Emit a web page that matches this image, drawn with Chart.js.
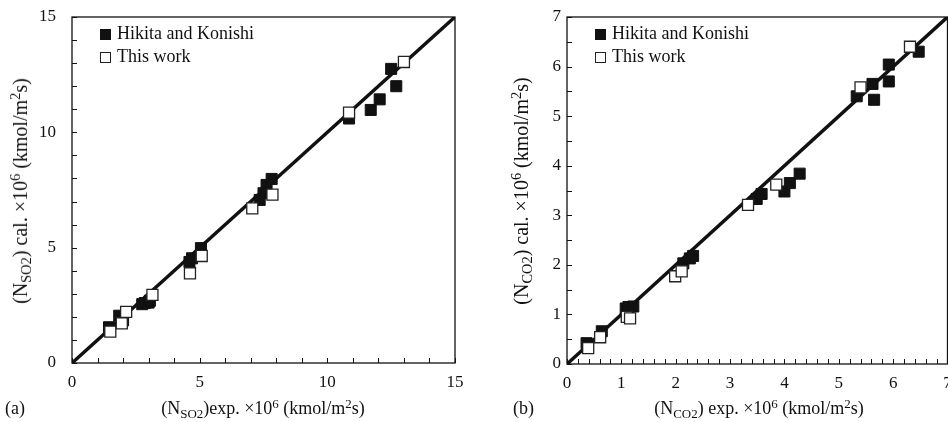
<!DOCTYPE html>
<html>
<head>
<meta charset="utf-8">
<script src="https://cdn.jsdelivr.net/npm/chart.js@4.4.0/dist/chart.umd.min.js"></script>
<style>
  html, body { margin: 0; padding: 0; background: #fff; }
  #wrap { position: relative; width: 948px; height: 422px; overflow: hidden; font-family: 'Liberation Serif', 'Times New Roman', serif; color: #111; }
  canvas { position: absolute; top: 0; }
  .txt { position: absolute; white-space: nowrap; font-size: 18px; line-height: 20px; }
  .txt sub { font-size: 0.72em; vertical-align: -0.3em; line-height: 0; }
  .txt sup { font-size: 0.72em; vertical-align: 0.5em; line-height: 0; }
  .ytitle { transform: translate(-50%, -50%) rotate(-90deg); font-size: 20px; }
  .xtitle { transform: translateX(-50%); }
  .leg { position: absolute; font-size: 18px; line-height: 20px; white-space: nowrap; }
  .leg i { display: inline-block; width: 11px; height: 11px; box-sizing: border-box; margin-right: 6px; vertical-align: -1px; }
  .leg i.f { background: #111; }
  .leg i.o { background: #fff; border: 1.3px solid #222; }
</style>
</head>
<body>
<div id="wrap">
  <canvas id="chartSO2" width="474" height="422" style="left:0"></canvas>
  <canvas id="chartCO2" width="494" height="422" style="left:474px"></canvas>

  <div class="txt ytitle" style="left:20px; top:191px">(N<sub>SO2</sub>) cal. ×10<sup>6</sup> (kmol/m<sup>2</sup>s)</div>
  <div class="txt xtitle" style="left:263px; top:398px">(N<sub>SO2</sub>)exp. ×10<sup>6</sup> (kmol/m<sup>2</sup>s)</div>
  <div class="txt" style="left:5px; top:398px">(a)</div>

  <div class="txt ytitle" style="left:521px; top:191px">(N<sub>CO2</sub>) cal. ×10<sup>6</sup> (kmol/m<sup>2</sup>s)</div>
  <div class="txt xtitle" style="left:759px; top:398px">(N<sub>CO2</sub>) exp. ×10<sup>6</sup> (kmol/m<sup>2</sup>s)</div>
  <div class="txt" style="left:513px; top:398px">(b)</div>

  <div class="leg" style="left:100px; top:23px"><i class="f"></i>Hikita and Konishi</div>
  <div class="leg" style="left:100px; top:46px"><i class="o"></i>This work</div>
  <div class="leg" style="left:595px; top:23px"><i class="f"></i>Hikita and Konishi</div>
  <div class="leg" style="left:595px; top:46px"><i class="o"></i>This work</div>
</div>
<script>
// (a) SO2 - experimental vs calculated flux
const so2HikitaX = [1.45, 1.85, 2.0, 2.75, 2.85, 3.0, 3.05, 4.6, 4.7, 5.05, 7.35, 7.5, 7.62, 7.82, 10.85, 11.7, 12.05, 12.5, 12.7];
const so2HikitaY = [1.55, 2.05, 1.85, 2.55, 2.6, 2.62, 2.7, 4.38, 4.54, 4.98, 7.07, 7.36, 7.72, 7.98, 10.6, 10.97, 11.43, 12.75, 12.0];
const so2WorkX = [1.5, 1.95, 2.12, 3.15, 4.62, 5.08, 7.06, 7.85, 10.85, 13.0];
const so2WorkY = [1.36, 1.72, 2.22, 2.95, 3.89, 4.64, 6.7, 7.3, 10.85, 13.05];
const so2Ticks = [0, 1, 2, 3, 4, 5, 6, 7, 8, 9, 10, 11, 12, 13, 14, 15];
const so2Labels = [0, 5, 10, 15];

// (b) CO2
const co2HikitaX = [0.36, 0.64, 1.08, 1.13, 1.22, 2.14, 2.26, 2.32, 3.49, 3.58, 4.0, 4.1, 4.28, 5.33, 5.62, 5.65, 5.92, 5.92, 6.47];
const co2HikitaY = [0.42, 0.66, 1.12, 1.15, 1.16, 2.03, 2.13, 2.18, 3.33, 3.43, 3.48, 3.65, 3.84, 5.4, 5.65, 5.33, 6.04, 5.7, 6.3];
const co2WorkX = [0.39, 0.61, 1.1, 1.16, 1.99, 2.11, 3.33, 3.85, 5.4, 6.31];
const co2WorkY = [0.32, 0.54, 0.95, 0.92, 1.77, 1.87, 3.21, 3.62, 5.58, 6.4];
const co2TicksX = [0, 0.2, 0.4, 0.6, 0.8, 1, 1.2, 1.4, 1.6, 1.8, 2, 2.2, 2.4, 2.6, 2.8, 3, 3.2, 3.4, 3.6, 3.8,
                   4, 4.2, 4.4, 4.6, 4.8, 5, 5.2, 5.4, 5.6, 5.8, 6, 6.2, 6.4, 6.6, 6.8, 7];
const co2TicksY = [0, 0.5, 1, 1.5, 2, 2.5, 3, 3.5, 4, 4.5, 5, 5.5, 6, 6.5, 7];
const co2Labels = [0, 1, 2, 3, 4, 5, 6, 7];

const FONT = "'Liberation Serif', 'Times New Roman', serif";
const INK = '#111';

function pairs(xs, ys) {
    return xs.map((x, i) => ({ x: x, y: ys[i] }));
}

// frame + inward tick marks
const framePlugin = {
    id: 'frame',
    afterDraw(chart) {
        const ctx = chart.ctx;
        const a = chart.chartArea;
        ctx.save();
        ctx.strokeStyle = INK;
        ctx.lineWidth = 1.3;
        ctx.strokeRect(a.left, a.top, a.right - a.left, a.bottom - a.top);
        ctx.lineWidth = 1;
        const xs = chart.scales.x, ys = chart.scales.y;
        ctx.beginPath();
        xs.ticks.forEach(t => {
            const px = Math.round(xs.getPixelForValue(t.value)) + 0.5;
            ctx.moveTo(px, a.bottom);
            ctx.lineTo(px, a.bottom - 5);
        });
        ys.ticks.forEach(t => {
            const py = Math.round(ys.getPixelForValue(t.value)) + 0.5;
            ctx.moveTo(a.left, py);
            ctx.lineTo(a.left + 5, py);
        });
        ctx.stroke();
        ctx.restore();
    }
};

function makeChart(id, cfg) {
    const ctx = document.getElementById(id).getContext('2d');
    return new Chart(ctx, {
        type: 'scatter',
        data: {
            datasets: [
                {
                    label: 'This work',
                    data: pairs(cfg.workX, cfg.workY),
                    pointStyle: 'rect',
                    pointRadius: 7.8,
                    backgroundColor: '#fff',
                    borderColor: '#222',
                    borderWidth: 1.3,
                    order: 0
                },
                {
                    label: 'Hikita and Konishi',
                    data: pairs(cfg.hikX, cfg.hikY),
                    pointStyle: 'rect',
                    pointRadius: 7.8,
                    backgroundColor: INK,
                    borderColor: INK,
                    borderWidth: 1,
                    order: 1
                },
                {
                    label: 'parity',
                    type: 'line',
                    data: [{ x: 0, y: 0 }, { x: cfg.max, y: cfg.max }],
                    borderColor: INK,
                    borderWidth: 3.5,
                    pointRadius: 0,
                    order: 2
                }
            ]
        },
        options: {
            responsive: false,
            animation: false,
            events: [],
            layout: { padding: { top: 17, right: cfg.padRight, left: 0, bottom: 0 } },
            plugins: {
                legend: { display: false },
                tooltip: { enabled: false }
            },
            scales: {
                x: {
                    type: 'linear',
                    min: 0,
                    max: cfg.max,
                    grid: { display: false, drawTicks: false, tickLength: 0 },
                    border: { display: false },
                    afterBuildTicks: s => { s.ticks = cfg.ticksX.map(v => ({ value: v })); },
                    afterFit: s => { s.height = cfg.xHeight; s.paddingLeft = 0; s.paddingRight = 0; },
                    ticks: {
                        autoSkip: false,
                        maxRotation: 0,
                        padding: 9,
                        color: INK,
                        font: { family: FONT, size: 17 },
                        callback: v => cfg.labels.some(l => Math.abs(l - v) < 1e-6) ? String(Math.round(v)) : ''
                    }
                },
                y: {
                    type: 'linear',
                    min: 0,
                    max: cfg.max,
                    grid: { display: false, drawTicks: false, tickLength: 0 },
                    border: { display: false },
                    afterBuildTicks: s => { s.ticks = cfg.ticksY.map(v => ({ value: v })); },
                    afterFit: s => { s.width = cfg.yWidth; s.paddingTop = 0; s.paddingBottom = 0; },
                    ticks: {
                        autoSkip: false,
                        padding: cfg.yPad,
                        color: INK,
                        font: { family: FONT, size: 17 },
                        callback: v => cfg.labels.some(l => Math.abs(l - v) < 1e-6) ? String(Math.round(v)) : ''
                    }
                }
            }
        },
        plugins: [framePlugin]
    });
}

makeChart('chartSO2', {
    hikX: so2HikitaX, hikY: so2HikitaY,
    workX: so2WorkX, workY: so2WorkY,
    ticksX: so2Ticks, ticksY: so2Ticks, labels: so2Labels,
    max: 15, yWidth: 72, xHeight: 59, padRight: 19, yPad: 16
});

// canvas is wider than the page so the last x label runs off the edge like the original
makeChart('chartCO2', {
    hikX: co2HikitaX, hikY: co2HikitaY,
    workX: co2WorkX, workY: co2WorkY,
    ticksX: co2TicksX, ticksY: co2TicksY, labels: co2Labels,
    max: 7, yWidth: 93, xHeight: 58, padRight: 20.5, yPad: 6
});
</script>
</body>
</html>
